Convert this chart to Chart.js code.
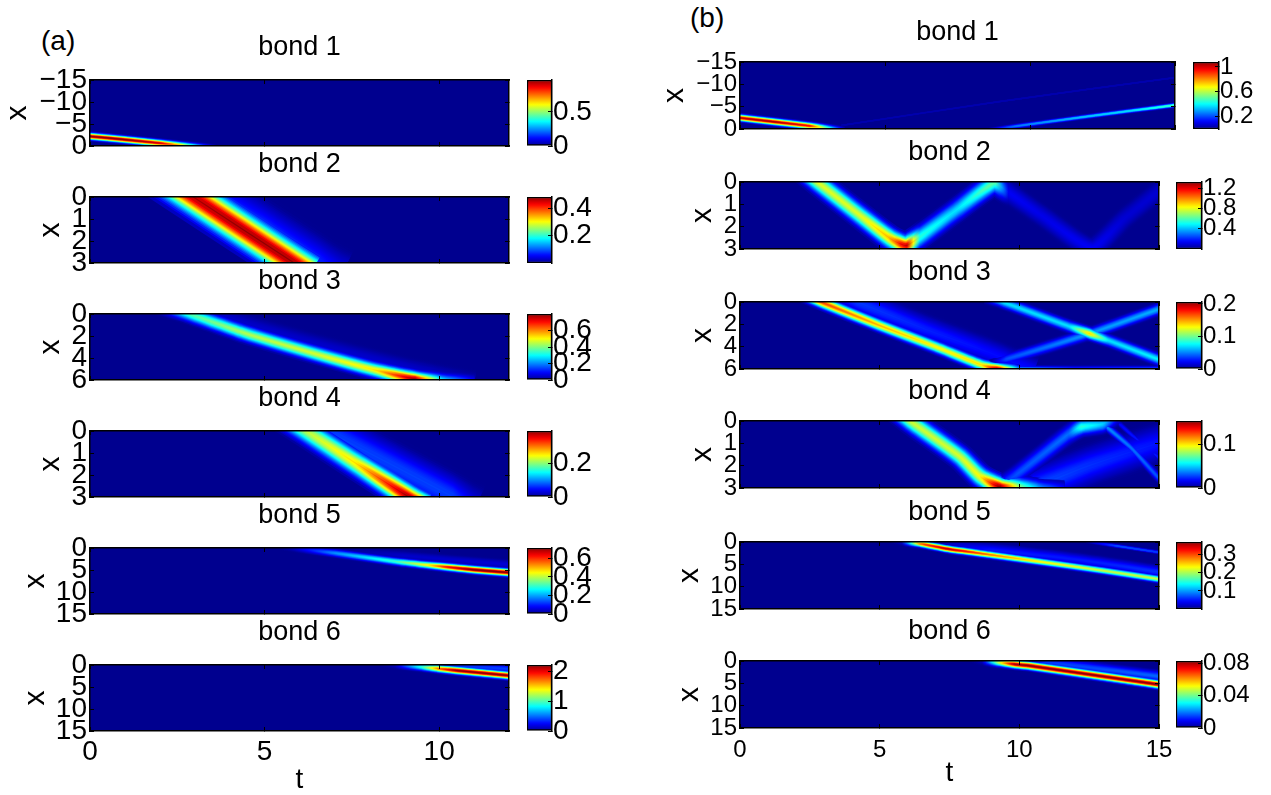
<!DOCTYPE html>
<html lang="en">
<head>
<meta charset="UTF-8" />
<title>bond density maps</title>
<script src="https://cdn.jsdelivr.net/npm/chart.js"></script>
<style>
  html, body { margin: 0; background: #fff; }
  #page { position: relative; width: 1271px; height: 795px; overflow: hidden; }
  #page canvas { position: absolute; }
  .tag { position: absolute; font: 28px "Liberation Sans", sans-serif; color: #000; line-height: 28px; }
</style>
</head>
<body>
<div id="page">
  <div class="tag" style="left:41px;top:27px">(a)</div>
  <div class="tag" style="left:690px;top:4px">(b)</div>
</div>
<script>
// tick labels
const tTicksA = [0, 5, 10];
const tTicksB = [0, 5, 10, 15];
const xTicksBond1 = [-15, -10, -5, 0];
const xTicks3 = [0, 1, 2, 3];
const xTicks6 = [0, 2, 4, 6];
const xTicks15 = [0, 5, 10, 15];

// colour bar ranges and ticks
const cbarMaxA = [0.97, 0.48, 0.8, 0.39, 0.71, 2.2];
const cbarMaxB = [1.08, 1.33, 0.206, 0.155, 0.37, 0.0825];
const cbarTicksA = [[0, 0.5], [0.2, 0.4], [0, 0.2, 0.4, 0.6], [0, 0.2], [0, 0.2, 0.4, 0.6], [0, 1, 2]];
const cbarTicksB = [[0.2, 0.6, 1], [0.4, 0.8, 1.2], [0, 0.1, 0.2], [0, 0.1], [0.1, 0.2, 0.3], [0, 0.04, 0.08]];

// ridges: t, x, and density value along each one
// (a) bond 1
const a1T = [0, 1, 2, 2.7, 3.6];
const a1X = [-2.2, -1.45, -0.65, -0.1, 0.5];
const a1V = [0.97, 0.97, 0.9, 0.6, 0.08];
// (a) bond 2
const a2T = [2, 2.96, 4.4, 5.85, 6.3];
const a2X = [-1, 0, 1.5, 3, 3.45];
const a2V = [0.47, 0.47, 0.48, 0.48, 0.48];
const a2WakeT = [2.6, 3.6, 5, 6.6, 7.2];
const a2WakeX = [-1, 0, 1.4, 3, 3.5];
const a2WakeV = [0.05, 0.07, 0.08, 0.07, 0.05];
// (a) bond 3
const a3T = [1.8, 2.84, 4.43, 6.47, 8.17, 9.3, 10.1, 11];
const a3X = [-0.9, 0, 1.74, 3.64, 5.1, 5.9, 6.1, 6.2];
const a3V = [0.1, 0.36, 0.44, 0.47, 0.52, 0.8, 0.3, 0.1];
const a3WakeT = [2.4, 3.4, 6, 9, 11];
const a3WakeX = [-1, 0, 2.4, 4.9, 6.2];
const a3WakeV = [0.03, 0.05, 0.05, 0.05, 0.04];
// (a) bond 4
const a4T = [5.2, 6.19, 7.6, 9.13, 9.6];
const a4X = [-1, 0, 1.45, 3, 3.4];
const a4V = [0.2, 0.22, 0.26, 0.39, 0.39];
const a4WakeT = [5.8, 6.8, 8.6, 10.4, 11];
const a4WakeX = [-1, 0, 1.5, 3, 3.5];
const a4WakeV = [0.06, 0.07, 0.07, 0.07, 0.04];
// (a) bond 5
const a5T = [5.3, 5.79, 7, 8.74, 9.7, 10.2, 11, 12.2];
const a5X = [-0.4, 0, 1.15, 3.05, 3.9, 4.3, 4.95, 5.7];
const a5V = [0, 0.03, 0.18, 0.3, 0.45, 0.62, 0.72, 0.72];
const a5WakeT = [7, 9, 12.2];
const a5WakeX = [0.4, 1.8, 3.9];
const a5WakeV = [0, 0.04, 0.05];
// (a) bond 6
const a6T = [8.2, 8.74, 9.5, 9.98, 10.5, 12.2];
const a6X = [-0.4, 0, 0.45, 0.84, 1.25, 2.55];
const a6V = [0, 0.1, 0.9, 1.7, 2.2, 2.2];
const a6WakeT = [9.4, 10.6, 12.2];
const a6WakeX = [-0.2, 0.2, 1];
const a6WakeV = [0, 0.35, 0.4];

// (b) bond 1
const b1T = [0, 1.2, 2.4, 2.9, 3.6];
const b1X = [-2.5, -1.6, -0.7, -0.3, 0.25];
const b1V = [1.02, 1.05, 0.95, 0.55, 0.08];
const b1BackT = [8.3, 9.5, 11.8, 13.5, 15.2];
const b1BackX = [0.4, -0.62, -2.65, -4.1, -5.5];
const b1BackV = [0, 0.25, 0.33, 0.36, 0.48];
const b1FaintT = [3.5, 9, 15.2];
const b1FaintX = [-0.8, -6.2, -11.7];
const b1FaintV = [0.035, 0.035, 0.035];
// (b) bond 2, one zigzag bouncing between the two ends
const b2T = [1.9, 2.77, 4.3, 5.4, 5.95, 6.4, 7.7, 9.1, 9.6, 10.8, 12.6, 13.8, 15.5];
const b2X = [-0.9, 0, 1.5, 2.55, 2.85, 2.5, 1.3, 0.05, 0.45, 1.5, 2.95, 1.6, -0.1];
const b2V = [0.8, 0.8, 0.8, 0.95, 1.33, 0.55, 0.45, 0.65, 0.14, 0.12, 0.14, 0.09, 0.09];
// (b) bond 3
const b3MainT = [1.9, 2.9, 5, 7, 8.68, 9.26, 10];
const b3MainX = [-1, 0, 2.1, 4, 5.67, 6, 6.1];
const b3MainV = [0.1, 0.17, 0.145, 0.13, 0.135, 0.206, 0.06];
const b3WakeT = [3.2, 4.2, 6.5, 9, 10.5];
const b3WakeX = [-1, 0, 2.3, 4.6, 6.2];
const b3WakeV = [0.02, 0.035, 0.03, 0.025, 0.025];
const b3DownT = [8.8, 9.4, 11.8, 12.5, 13.2, 15.2];
const b3DownX = [-0.4, 0, 2.2, 2.82, 3.45, 5.35];
const b3DownV = [0.03, 0.07, 0.07, 0.14, 0.07, 0.075];
const b3UpT = [8.9, 9.55, 12.5, 15.2];
const b3UpX = [5.5, 5.1, 2.84, 0.45];
const b3UpV = [0, 0.04, 0.055, 0.06];
const b3EdgeT = [9.4, 12, 15.2];
const b3EdgeX = [6.05, 6.05, 6.05];
const b3EdgeV = [0.08, 0.04, 0.05];
// (b) bond 4, the incoming ridge runs on along the far end
const b4DownT = [5.1, 6.09, 7.88, 8.6, 9.3, 10, 10.8, 11.6];
const b4DownX = [-1, 0, 1.6, 2.5, 2.95, 2.95, 3.05, 3.1];
const b4DownV = [0.08, 0.09, 0.092, 0.098, 0.16, 0.08, 0.04, 0.02];
const b4UpT = [9, 9.9, 11.8, 12.2, 13, 13.5];
const b4UpX = [3.1, 2.4, 0.55, 0.27, 0.13, -0.2];
const b4UpV = [0.02, 0.03, 0.035, 0.065, 0.05, 0.02];
const b4WakeT = [10.3, 12.5, 15.2];
const b4WakeX = [3.1, 2, 0.9];
const b4WakeV = [0.03, 0.025, 0.02];
const b4Down2T = [12.7, 13, 14, 14.95, 15.3];
const b4Down2X = [-0.2, 0.13, 1.2, 2.5, 2.9];
const b4Down2V = [0.02, 0.04, 0.035, 0.03, 0.03];
const b4Down3T = [13.3, 14, 15.2];
const b4Down3X = [-0.2, 0.6, 1.85];
const b4Down3V = [0.015, 0.02, 0.02];
// (b) bond 5
const b5MainT = [5.3, 5.8, 6.5, 7.38, 9, 10.85, 13, 15.2];
const b5MainX = [-0.4, 0, 0.45, 1.5, 2.9, 4.5, 6.4, 8.5];
const b5MainV = [0, 0.02, 0.3, 0.35, 0.28, 0.23, 0.21, 0.21];
const b5WakeT = [6.4, 9, 12, 15.2];
const b5WakeX = [0.2, 1.8, 3.9, 6.9];
const b5WakeV = [0, 0.05, 0.05, 0.06];
const b5SideT = [12.4, 13.5, 15.2];
const b5SideX = [-0.1, 0.9, 2.5];
const b5SideV = [0.01, 0.07, 0.06];
// (b) bond 6
const b6MainT = [8.2, 8.68, 9.3, 9.8, 10.4, 15.2];
const b6MainX = [-0.4, 0, 0.35, 0.7, 1.1, 5.45];
const b6MainV = [0, 0.004, 0.05, 0.08, 0.083, 0.083];
const b6WakeT = [9.6, 11, 15.2];
const b6WakeX = [-0.1, 0.3, 3.6];
const b6WakeV = [0, 0.014, 0.018];

const FONT = '"Liberation Sans", sans-serif';
const page = document.getElementById('page');

// jet colour map as MATLAB draws it, alpha lets the tail of a ridge fade out
function jet(v, alpha = 1) {
  const c = Math.min(1, Math.max(0, v)) * 0.969 + 0.0156;
  const ch = d => Math.round(255 * Math.min(1, Math.max(0, 1.5 - Math.abs(4 * c - d))));
  return `rgba(${ch(3)},${ch(2)},${ch(1)},${alpha})`;
}

function addCanvas(left, top, width, height) {
  const c = document.createElement('canvas');
  c.width = width;
  c.height = height;
  c.style.left = left + 'px';
  c.style.top = top + 'px';
  c.style.width = width + 'px';
  c.style.height = height + 'px';
  page.appendChild(c);
  return c.getContext('2d');
}

function fixedTicks(vals) {
  return s => { s.ticks = vals.map(value => ({ value })); };
}
const tickText = v => String(v).replace('-', '−');

// one ridge is stroked several times, wide and cold to narrow and hot,
// which gives the bell shaped cross section of the density
const LEVELS = 20;
function ridgeStrokes(t, x, v, width, cmax) {
  const points = t.map((tv, i) => ({ x: tv, y: x[i] }));
  const peak = Math.max(...v);
  const out = [];
  for (let k = 0; k < LEVELS; k++) {
    const f = (k + 1) / LEVELS;
    let cached = null;
    out.push({
      data: points,
      borderWidth: Math.max(1.2, width * Math.sqrt(Math.log(1 / f) / Math.log(LEVELS))),
      borderJoinStyle: 'round',
      pointRadius: 0,
      tension: 0.2,
      clip: 0,
      order: -f * peak / cmax,
      borderColor(ctx) {
        if (cached) return cached;
        const chart = ctx.chart;
        const sx = chart.scales.x;
        const p0 = sx.getPixelForValue(t[0]);
        const p1 = sx.getPixelForValue(t[t.length - 1]);
        if (!Number.isFinite(p0) || !Number.isFinite(p1)) return '#00008f'; // before layout
        const g = chart.ctx.createLinearGradient(p0, 0, p1, 0);
        const n = 60;
        for (let s = 0; s <= n; s++) {
          const tt = t[0] + (t[t.length - 1] - t[0]) * s / n;
          let i = 0;
          while (i < t.length - 2 && t[i + 1] < tt) i++;
          const a = (tt - t[i]) / (t[i + 1] - t[i]);
          const level = (v[i] + (v[i + 1] - v[i]) * a) * f / cmax;
          g.addColorStop(s / n, jet(level, Math.min(1, level / 0.04)));
        }
        cached = g;
        return g;
      }
    });
  }
  return out;
}

const plotBackground = {
  id: 'plotBackground',
  beforeDatasetsDraw(chart) {
    const a = chart.chartArea;
    chart.ctx.save();
    chart.ctx.fillStyle = jet(0);
    chart.ctx.fillRect(a.left, a.top, a.right - a.left, a.bottom - a.top);
    chart.ctx.restore();
  }
};

function axisGrid() {
  return { display: true, drawOnChartArea: false, tickLength: -4, tickColor: '#000', tickWidth: 1, z: 1 };
}

function heatPanel(p) {
  const titlePad = p.titlePad;
  const titleH = p.titleSize + titlePad;
  const bottomH = p.last ? p.bottomH : 30;
  const left = p.labelX - 15;
  const top = p.y - titleH;
  const rightPad = 30;
  const ctx = addCanvas(left, top, p.x - left + p.w + rightPad, titleH + p.h + bottomH);
  const datasets = [];
  p.ridges.forEach(r => datasets.push(...ridgeStrokes(r[0], r[1], r[2], r[3], p.cmax)));
  const chart = new Chart(ctx, {
    type: 'line',
    data: { datasets },
    plugins: [plotBackground],
    options: {
      responsive: false,
      animation: false,
      events: [],
      layout: { autoPadding: false, padding: { right: rightPad } },
      plugins: {
        legend: { display: false },
        tooltip: { enabled: false },
        title: {
          display: true,
          text: p.title,
          color: '#000',
          fullSize: false,
          font: { family: FONT, size: p.titleSize, weight: 'normal', lineHeight: 1 },
          padding: { top: 0, bottom: titlePad }
        }
      },
      scales: {
        x: {
          type: 'linear', position: 'bottom', min: 0, max: p.tMax,
          afterBuildTicks: fixedTicks(p.tTicks),
          afterFit: s => { s.height = bottomH; },
          grid: axisGrid(),
          border: { color: '#000', width: 1.5, z: 1 },
          ticks: { display: !!p.last, color: '#000', autoSkip: false, maxRotation: 0, padding: 4 + p.xTickPad, font: { family: FONT, size: p.fontSize } },
          title: { display: !!p.last, text: 't', color: '#000', padding: 0, font: { family: FONT, size: 28, lineHeight: 1 } }
        },
        y: {
          type: 'linear', position: 'left', reverse: true, min: p.xMin, max: p.xMax,
          afterBuildTicks: fixedTicks(p.xTicks),
          afterFit: s => { s.width = p.x - left; },
          grid: axisGrid(),
          border: { color: '#000', width: 1.5, z: 1 },
          ticks: { color: '#000', autoSkip: false, maxRotation: 0, padding: 7, callback: tickText, font: { family: FONT, size: p.fontSize } },
          title: { display: true, text: 'x', color: '#000', padding: 0, font: { family: FONT, size: 30, lineHeight: 1 } }
        },
        x2: {
          type: 'linear', position: 'top', min: 0, max: p.tMax,
          afterBuildTicks: fixedTicks(p.tTicks),
          afterFit: s => { s.height = 0; },
          grid: axisGrid(),
          border: { color: '#000', width: 1.5, z: 1 },
          ticks: { display: false }
        },
        y2: {
          type: 'linear', position: 'right', reverse: true, min: p.xMin, max: p.xMax,
          afterBuildTicks: fixedTicks(p.xTicks),
          afterFit: s => { s.width = 0; },
          grid: axisGrid(),
          border: { color: '#000', width: 1.5, z: 1 },
          ticks: { display: false }
        }
      }
    }
  });
  chart.update();
}

const JET_STOPS = 32;
function colorBar(p) {
  const pad = 30;
  const labelW = 70;
  const ctx = addCanvas(p.x - 1, p.y - pad, p.w + 1 + labelW, p.h + pad * 2);
  const chart = new Chart(ctx, {
    type: 'bar',
    data: {
      labels: [''],
      datasets: [{
        data: [[0, p.cmax]],
        barPercentage: 1,
        categoryPercentage: 1,
        borderColor: '#000',
        borderWidth: 1.5,
        borderSkipped: false,
        backgroundColor(c) {
          const sy = c.chart.scales.y;
          const p0 = sy.getPixelForValue(0);
          const p1 = sy.getPixelForValue(p.cmax);
          if (!Number.isFinite(p0) || !Number.isFinite(p1)) return '#00008f'; // before layout
          const g = c.chart.ctx.createLinearGradient(0, p0, 0, p1);
          for (let i = 0; i <= JET_STOPS; i++) g.addColorStop(i / JET_STOPS, jet(i / JET_STOPS));
          return g;
        }
      }]
    },
    options: {
      responsive: false,
      animation: false,
      events: [],
      layout: { autoPadding: false, padding: { left: 1, top: pad, bottom: pad } },
      plugins: { legend: { display: false }, tooltip: { enabled: false } },
      scales: {
        x: { display: false },
        y: {
          position: 'right', min: 0, max: p.cmax,
          afterBuildTicks: fixedTicks(p.ticks),
          afterFit: s => { s.width = labelW; },
          grid: axisGrid(),
          border: { color: '#000', width: 1.5, z: 1 },
          ticks: { color: '#000', autoSkip: false, maxRotation: 0, padding: 5, callback: tickText, font: { family: FONT, size: p.fontSize } }
        }
      }
    }
  });
  chart.update();
}

// layout of the twelve panels
const colA = { x: 90, w: 419, h: 66, tMax: 12, tTicks: tTicksA, fontSize: 28, titleSize: 27, titlePad: 19, xTickPad: 4, bottomH: 63 };
const colB = { x: 740, w: 419, h: 67, tMax: 15, tTicks: tTicksB, fontSize: 24, titleSize: 27, titlePad: 16, xTickPad: 8, bottomH: 59 };

const panelsA = [
  { y: 80, labelX: 18, xMin: -15, xMax: 0, xTicks: xTicksBond1, ridges: [[a1T, a1X, a1V, 10]] },
  { y: 197, labelX: 51, xMin: 0, xMax: 3, xTicks: xTicks3, ridges: [[a2WakeT, a2WakeX, a2WakeV, 60], [a2T, a2X, a2V, 50]] },
  { y: 314, labelX: 51, xMin: 0, xMax: 6, xTicks: xTicks6, ridges: [[a3WakeT, a3WakeX, a3WakeV, 30], [a3T, a3X, a3V, 22]] },
  { y: 431, labelX: 51, xMin: 0, xMax: 3, xTicks: xTicks3, ridges: [[a4WakeT, a4WakeX, a4WakeV, 55], [a4T, a4X, a4V, 34]] },
  { y: 548, labelX: 36, xMin: 0, xMax: 15, xTicks: xTicks15, ridges: [[a5WakeT, a5WakeX, a5WakeV, 14], [a5T, a5X, a5V, 11]] },
  { y: 665, labelX: 36, xMin: 0, xMax: 15, xTicks: xTicks15, last: true, ridges: [[a6WakeT, a6WakeX, a6WakeV, 14], [a6T, a6X, a6V, 11]] }
];
const panelsB = [
  { y: 62, w: 435, labelX: 675, xMin: -15, xMax: 0, xTicks: xTicksBond1, cbarX: 1193, ridges: [[b1FaintT, b1FaintX, b1FaintV, 3], [b1BackT, b1BackX, b1BackV, 6], [b1T, b1X, b1V, 10]] },
  { y: 182, labelX: 703, xMin: 0, xMax: 3, xTicks: xTicks3, ridges: [[b2T, b2X, b2V, 28]] },
  { y: 302, labelX: 703, xMin: 0, xMax: 6, xTicks: xTicks6, ridges: [[b3EdgeT, b3EdgeX, b3EdgeV, 10], [b3WakeT, b3WakeX, b3WakeV, 36], [b3UpT, b3UpX, b3UpV, 16], [b3DownT, b3DownX, b3DownV, 16], [b3MainT, b3MainX, b3MainV, 17]] },
  { y: 421, labelX: 703, xMin: 0, xMax: 3, xTicks: xTicks3, ridges: [[b4WakeT, b4WakeX, b4WakeV, 50], [b4UpT, b4UpX, b4UpV, 24], [b4Down2T, b4Down2X, b4Down2V, 11], [b4Down3T, b4Down3X, b4Down3V, 7], [b4DownT, b4DownX, b4DownV, 28]] },
  { y: 542, labelX: 690, xMin: 0, xMax: 15, xTicks: xTicks15, ridges: [[b5SideT, b5SideX, b5SideV, 5], [b5WakeT, b5WakeX, b5WakeV, 18], [b5MainT, b5MainX, b5MainV, 10]] },
  { y: 661, labelX: 690, xMin: 0, xMax: 15, xTicks: xTicks15, last: true, ridges: [[b6WakeT, b6WakeX, b6WakeV, 16], [b6MainT, b6MainX, b6MainV, 12]] }
];

panelsA.forEach((p, i) => {
  heatPanel({ ...colA, ...p, title: 'bond ' + (i + 1), cmax: cbarMaxA[i] });
  colorBar({ x: 527, y: p.y, w: 25, h: colA.h, cmax: cbarMaxA[i], ticks: cbarTicksA[i], fontSize: colA.fontSize });
});
panelsB.forEach((p, i) => {
  heatPanel({ ...colB, ...p, title: 'bond ' + (i + 1), cmax: cbarMaxB[i] });
  colorBar({ x: p.cbarX || 1176, y: p.y, w: 26, h: colB.h, cmax: cbarMaxB[i], ticks: cbarTicksB[i], fontSize: colB.fontSize });
});
</script>
</body>
</html>
